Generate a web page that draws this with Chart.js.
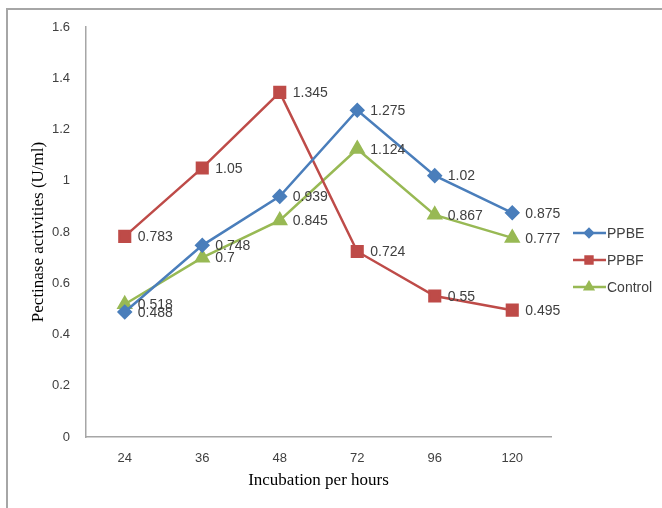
<!DOCTYPE html>
<html>
<head>
<meta charset="utf-8">
<script src="https://cdn.jsdelivr.net/npm/chart.js@4.4.1/dist/chart.umd.min.js"></script>
<style>
	html, body { margin: 0; padding: 0; background: #fff; }
	#wrap { width: 662px; height: 508px; position: relative; }
</style>
</head>
<body>
<div id="wrap"><canvas id="pectinChart" width="662" height="508"></canvas></div>
<script>
// данные графика
const hours = ['24', '36', '48', '72', '96', '120'];
const ppbe = [0.488, 0.748, 0.939, 1.275, 1.02, 0.875];
const ppbf = [0.783, 1.05, 1.345, 0.724, 0.55, 0.495];
const control = [0.518, 0.7, 0.845, 1.124, 0.867, 0.777];
const seriesNames = ['PPBE', 'PPBF', 'Control'];

const tickFont = { family: 'Liberation Sans', size: 13 };
const textColor = '#404040';

// рамка, подписи значений и легенда
const extras = {
	id: 'extras',
	beforeDraw(chart) {
		const c = chart.ctx;
		c.save();
		c.strokeStyle = '#a6a6a6';
		c.lineWidth = 2;
		c.beginPath();
		c.moveTo(7, 508);
		c.lineTo(7, 9);
		c.lineTo(662, 9);
		c.stroke();
		c.restore();
	},
	afterDatasetsDraw(chart) {
		const c = chart.ctx;
		c.save();
		c.font = '14px "Liberation Sans"';
		c.fillStyle = textColor;
		c.textBaseline = 'middle';
		c.textAlign = 'left';
		chart.data.datasets.forEach((ds, i) => {
			const meta = chart.getDatasetMeta(i);
			meta.data.forEach((pt, j) => {
				c.fillText(String(ds.data[j]), pt.x + 13, pt.y + 1);
			});
		});
		// легенда
		let y = 233;
		chart.data.datasets.forEach((ds) => {
			c.strokeStyle = ds.borderColor;
			c.lineWidth = 2.5;
			c.beginPath();
			c.moveTo(573, y);
			c.lineTo(606, y);
			c.stroke();
			Chart.helpers.drawPoint(c, {
				pointStyle: ds.pointStyle,
				radius: ds.pointRadius * 0.65,
				borderWidth: 1
			}, 589, y);
			c.fillStyle = ds.backgroundColor;
			c.fill();
			c.fillStyle = textColor;
			c.fillText(ds.label, 607, y + 1);
			y += 27;
		});
		c.restore();
	}
};

const ctx = document.getElementById('pectinChart');
new Chart(ctx, {
	type: 'line',
	data: {
		labels: hours,
		datasets: [
			{ label: seriesNames[0], data: ppbe, borderColor: '#4a7ebb', backgroundColor: '#4a7ebb',
				pointStyle: 'rectRot', pointRadius: 6, borderWidth: 2.5 },
			{ label: seriesNames[1], data: ppbf, borderColor: '#be4b48', backgroundColor: '#be4b48',
				pointStyle: 'rect', pointRadius: 7.5, borderWidth: 2.5 },
			{ label: seriesNames[2], data: control, borderColor: '#98b954', backgroundColor: '#98b954',
				pointStyle: 'triangle', pointRadius: 7, borderWidth: 2.5 }
		]
	},
	options: {
		responsive: false,
		animation: false,
		layout: { padding: { left: 0, top: 27, right: 111, bottom: 0 } },
		plugins: {
			legend: { display: false },
			tooltip: { enabled: false }
		},
		scales: {
			x: {
				offset: true,
				grid: { display: false, drawTicks: false },
				border: { color: '#a6a6a6', width: 1.5 },
				ticks: { font: tickFont, color: textColor, padding: 14 },
				title: {
					display: true, text: 'Incubation per hours', color: '#000',
					font: { family: 'Liberation Serif', size: 17 },
					padding: { top: 0, bottom: 17 }
				},
				afterFit(scale) { scale.height = 71; }
			},
			y: {
				min: 0, max: 1.6,
				grid: { display: false, drawTicks: false },
				border: { color: '#a6a6a6', width: 1.5 },
				ticks: { stepSize: 0.2, font: tickFont, color: textColor, padding: 16,
					callback: (v) => String(Math.round(v * 10) / 10) },
				title: {
					display: true, text: 'Pectinase activities (U/ml)', color: '#000',
					font: { family: 'Liberation Serif', size: 17 },
					padding: { top: 28, bottom: 0 }
				},
				afterFit(scale) { scale.width = 86; }
			}
		}
	},
	plugins: [extras]
});
</script>
</body>
</html>
